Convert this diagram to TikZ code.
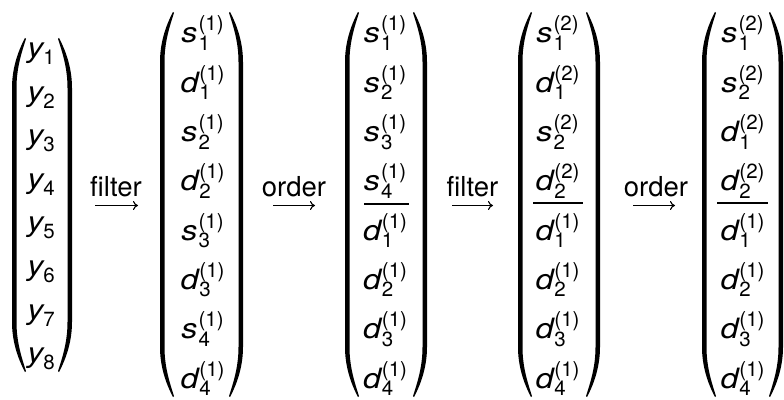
\documentclass[tikz,border=0pt]{standalone}
\usepackage{fontspec}
\usepackage{graphicx}
\setmainfont{TeX Gyre Heros}
\usetikzlibrary{arrows.meta}
\newcommand\lt[1]{\scalebox{1.15}[1]{\itshape #1}}
\newcommand\scr{\fontsize{20.5}{20.5}\selectfont}
\newcommand\ent[3]{\lt{#1}\kern1pt{\scr\rlap{\raisebox{-7.5pt}{#2}}\raisebox{12pt}{#3}}}
\newcommand\yent[1]{\lt{y}\kern0pt{\scr\raisebox{-7pt}{#1}}}
\newcommand\myparen[4]{%
  \begin{scope}[shift={(#1,0)},xscale=#4]
  \fill (13,#2) .. controls (5,#2-15) and (0,#2-32) .. (0,#2-50) -- (0,#3+50)
     .. controls (0,#3+32) and (5,#3+15) .. (13,#3) -- (14,#3+0.8)
     .. controls (9.5,#3+15) and (4.5,#3+30) .. (4.5,#3+50) -- (4.5,#2-50)
     .. controls (4.5,#2-30) and (9.5,#2-15) .. (14,#2-0.8) -- cycle;
  \end{scope}}
\begin{document}
\begin{tikzpicture}[x=1pt,y=1pt,
  ent/.style={inner sep=0pt,anchor=base,font=\fontsize{28}{28}\selectfont},
  lab/.style={inner sep=0pt,anchor=base,font=\fontsize{27.5}{27.5}\selectfont},
  arr/.style={line width=1.1pt,-{Computer Modern Rightarrow[length=5pt,width=9pt]}},
  rl/.style={line width=1.3pt}]
\useasboundingbox (0,0) rectangle (784,399);
% column 1
\foreach \k in {1,...,8}
  \node[ent] (c1r\k) at (41,{399-57.6-43.6*(\k-1)}) {\yent{\k}};
\myparen{12}{361}{27}{1}
\myparen{72}{361}{27}{-1}
% column 2
\foreach \l/\s/\p [count=\k] in {s/1/1,d/1/1,s/2/1,d/2/1,s/3/1,d/3/1,s/4/1,d/4/1}
  \node[ent] (c2r\k) at (202.5,{399-43-49.3*(\k-1)}) {\ent{\l}{\s}{(\p)}};
\myparen{160}{387}{2}{1}
\myparen{243}{387}{2}{-1}
% column 3
\foreach \l/\s/\p [count=\k] in {s/1/1,s/2/1,s/3/1,s/4/1,d/1/1,d/2/1,d/3/1,d/4/1}
  \node[ent] (c3r\k) at (385,{399-43-49.3*(\k-1)}) {\ent{\l}{\s}{(\p)}};
\myparen{345}{387}{2}{1}
\myparen{427}{387}{2}{-1}
\draw[rl] (364,195) -- (409,195);
% column 4
\foreach \l/\s/\p [count=\k] in {s/1/2,d/1/2,s/2/2,d/2/2,d/1/1,d/2/1,d/3/1,d/4/1}
  \node[ent] (c4r\k) at (557.5,{399-43-49.3*(\k-1)}) {\ent{\l}{\s}{(\p)}};
\myparen{518}{387}{2}{1}
\myparen{600}{387}{2}{-1}
\draw[rl] (533,196) -- (583,196);
% column 5
\foreach \l/\s/\p [count=\k] in {s/1/2,s/2/2,d/1/2,d/2/2,d/1/1,d/2/1,d/3/1,d/4/1}
  \node[ent] (c5r\k) at (742.5,{399-43-49.3*(\k-1)}) {\ent{\l}{\s}{(\p)}};
\myparen{702}{387}{2}{1}
\myparen{783}{387}{2}{-1}
\draw[rl] (717,196) -- (768,196);
% arrows
\node[lab] (l1) at (116,202.5) {filter};
\coordinate (a1s) at (95,193.5); \coordinate (a1e) at (138,193.5);
\draw[arr] (a1s) -- (a1e);
\node[lab] (l2) at (294,202.5) {order};
\coordinate (a2s) at (273,193.5); \coordinate (a2e) at (315,193.5);
\draw[arr] (a2s) -- (a2e);
\node[lab] (l3) at (472.5,202.5) {filter};
\coordinate (a3s) at (452,193.5); \coordinate (a3e) at (493,193.5);
\draw[arr] (a3s) -- (a3e);
\node[lab] (l4) at (656,202.5) {order};
\coordinate (a4s) at (633,193.5); \coordinate (a4e) at (675,193.5);
\draw[arr] (a4s) -- (a4e);
\end{tikzpicture}
\end{document}
